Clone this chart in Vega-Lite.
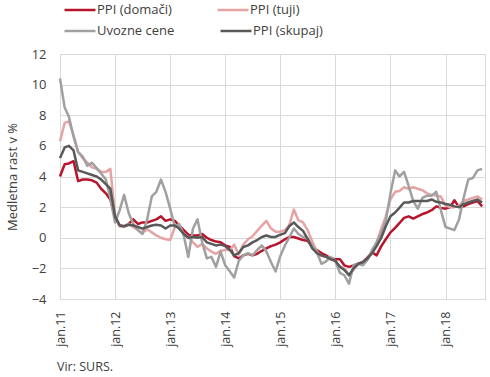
{
  "$schema": "https://vega.github.io/schema/vega-lite/v6.json",
  "width": 425,
  "height": 245,
  "autosize": {"type": "none"},
  "padding": {"left": 60, "top": 54, "right": 5, "bottom": 78},
  "background": "white",
  "config": {
    "font": "Open Sans",
    "view": {"stroke": "#D9D9D9", "strokeWidth": 1}
  },
  "title": {"text": "Vir: SURS.", "orient": "bottom", "anchor": "start", "frame": "group", "fontSize": 12.5, "fontWeight": "normal", "color": "#404040", "offset": 15, "dx": -3},
  "data": {"values": [
    {"d":"2011-01-01","PPI (domači)":4.0,"PPI (tuji)":6.3,"Uvozne cene":10.4,"PPI (skupaj)":5.2},
    {"d":"2011-02-01","PPI (domači)":4.8,"PPI (tuji)":7.5,"Uvozne cene":8.5,"PPI (skupaj)":5.9},
    {"d":"2011-03-01","PPI (domači)":4.85,"PPI (tuji)":7.6,"Uvozne cene":7.9,"PPI (skupaj)":6.0},
    {"d":"2011-04-01","PPI (domači)":5.0,"PPI (tuji)":6.7,"Uvozne cene":6.6,"PPI (skupaj)":5.7},
    {"d":"2011-05-01","PPI (domači)":3.7,"PPI (tuji)":5.6,"Uvozne cene":5.6,"PPI (skupaj)":4.4},
    {"d":"2011-06-01","PPI (domači)":3.8,"PPI (tuji)":5.2,"Uvozne cene":5.3,"PPI (skupaj)":4.3},
    {"d":"2011-07-01","PPI (domači)":3.8,"PPI (tuji)":4.9,"Uvozne cene":4.7,"PPI (skupaj)":4.2},
    {"d":"2011-08-01","PPI (domači)":3.75,"PPI (tuji)":4.6,"Uvozne cene":4.9,"PPI (skupaj)":4.1},
    {"d":"2011-09-01","PPI (domači)":3.6,"PPI (tuji)":4.5,"Uvozne cene":4.55,"PPI (skupaj)":4.0},
    {"d":"2011-10-01","PPI (domači)":3.2,"PPI (tuji)":4.3,"Uvozne cene":4.2,"PPI (skupaj)":3.8},
    {"d":"2011-11-01","PPI (domači)":2.9,"PPI (tuji)":4.3,"Uvozne cene":3.8,"PPI (skupaj)":3.5},
    {"d":"2011-12-01","PPI (domači)":2.5,"PPI (tuji)":4.5,"Uvozne cene":2.6,"PPI (skupaj)":3.2},
    {"d":"2012-01-01","PPI (domači)":1.3,"PPI (tuji)":1.5,"Uvozne cene":1.0,"PPI (skupaj)":1.4},
    {"d":"2012-02-01","PPI (domači)":0.8,"PPI (tuji)":0.75,"Uvozne cene":1.8,"PPI (skupaj)":0.8},
    {"d":"2012-03-01","PPI (domači)":0.75,"PPI (tuji)":0.7,"Uvozne cene":2.8,"PPI (skupaj)":0.75},
    {"d":"2012-04-01","PPI (domači)":0.9,"PPI (tuji)":0.9,"Uvozne cene":1.6,"PPI (skupaj)":0.85},
    {"d":"2012-05-01","PPI (domači)":1.2,"PPI (tuji)":0.7,"Uvozne cene":0.9,"PPI (skupaj)":0.8},
    {"d":"2012-06-01","PPI (domači)":0.9,"PPI (tuji)":0.5,"Uvozne cene":0.5,"PPI (skupaj)":0.7},
    {"d":"2012-07-01","PPI (domači)":1.0,"PPI (tuji)":0.3,"Uvozne cene":0.25,"PPI (skupaj)":0.6},
    {"d":"2012-08-01","PPI (domači)":1.0,"PPI (tuji)":0.55,"Uvozne cene":1.2,"PPI (skupaj)":0.7},
    {"d":"2012-09-01","PPI (domači)":1.1,"PPI (tuji)":0.35,"Uvozne cene":2.7,"PPI (skupaj)":0.8},
    {"d":"2012-10-01","PPI (domači)":1.2,"PPI (tuji)":0.15,"Uvozne cene":3.0,"PPI (skupaj)":0.85},
    {"d":"2012-11-01","PPI (domači)":1.4,"PPI (tuji)":0.0,"Uvozne cene":3.8,"PPI (skupaj)":0.8},
    {"d":"2012-12-01","PPI (domači)":1.1,"PPI (tuji)":-0.1,"Uvozne cene":3.0,"PPI (skupaj)":0.6},
    {"d":"2013-01-01","PPI (domači)":1.2,"PPI (tuji)":-0.15,"Uvozne cene":1.9,"PPI (skupaj)":0.8},
    {"d":"2013-02-01","PPI (domači)":1.1,"PPI (tuji)":0.7,"Uvozne cene":0.7,"PPI (skupaj)":0.8},
    {"d":"2013-03-01","PPI (domači)":0.8,"PPI (tuji)":0.8,"Uvozne cene":0.9,"PPI (skupaj)":0.6},
    {"d":"2013-04-01","PPI (domači)":0.5,"PPI (tuji)":0.25,"Uvozne cene":0.15,"PPI (skupaj)":0.25},
    {"d":"2013-05-01","PPI (domači)":0.2,"PPI (tuji)":0.05,"Uvozne cene":-1.25,"PPI (skupaj)":0.0},
    {"d":"2013-06-01","PPI (domači)":0.15,"PPI (tuji)":-0.3,"Uvozne cene":0.6,"PPI (skupaj)":0.05},
    {"d":"2013-07-01","PPI (domači)":0.15,"PPI (tuji)":-0.6,"Uvozne cene":1.2,"PPI (skupaj)":0.0},
    {"d":"2013-08-01","PPI (domači)":0.25,"PPI (tuji)":-0.4,"Uvozne cene":-0.3,"PPI (skupaj)":0.05},
    {"d":"2013-09-01","PPI (domači)":0.0,"PPI (tuji)":-0.7,"Uvozne cene":-1.35,"PPI (skupaj)":-0.3},
    {"d":"2013-10-01","PPI (domači)":-0.15,"PPI (tuji)":-0.9,"Uvozne cene":-1.25,"PPI (skupaj)":-0.4},
    {"d":"2013-11-01","PPI (domači)":-0.25,"PPI (tuji)":-1.05,"Uvozne cene":-1.9,"PPI (skupaj)":-0.5},
    {"d":"2013-12-01","PPI (domači)":-0.3,"PPI (tuji)":-0.85,"Uvozne cene":-0.9,"PPI (skupaj)":-0.45},
    {"d":"2014-01-01","PPI (domači)":-0.5,"PPI (tuji)":-0.8,"Uvozne cene":-1.8,"PPI (skupaj)":-0.55},
    {"d":"2014-02-01","PPI (domači)":-0.6,"PPI (tuji)":-0.8,"Uvozne cene":-2.2,"PPI (skupaj)":-0.8},
    {"d":"2014-03-01","PPI (domači)":-1.2,"PPI (tuji)":-0.45,"Uvozne cene":-2.6,"PPI (skupaj)":-1.15},
    {"d":"2014-04-01","PPI (domači)":-1.35,"PPI (tuji)":-1.1,"Uvozne cene":-1.5,"PPI (skupaj)":-1.0},
    {"d":"2014-05-01","PPI (domači)":-1.15,"PPI (tuji)":-0.45,"Uvozne cene":-1.15,"PPI (skupaj)":-0.6},
    {"d":"2014-06-01","PPI (domači)":-1.05,"PPI (tuji)":-0.1,"Uvozne cene":-1.0,"PPI (skupaj)":-0.5},
    {"d":"2014-07-01","PPI (domači)":-1.15,"PPI (tuji)":0.1,"Uvozne cene":-1.15,"PPI (skupaj)":-0.3},
    {"d":"2014-08-01","PPI (domači)":-1.05,"PPI (tuji)":0.45,"Uvozne cene":-0.8,"PPI (skupaj)":-0.15},
    {"d":"2014-09-01","PPI (domači)":-0.85,"PPI (tuji)":0.8,"Uvozne cene":-0.5,"PPI (skupaj)":0.05},
    {"d":"2014-10-01","PPI (domači)":-0.7,"PPI (tuji)":1.1,"Uvozne cene":-0.9,"PPI (skupaj)":0.15},
    {"d":"2014-11-01","PPI (domači)":-0.55,"PPI (tuji)":0.6,"Uvozne cene":-1.6,"PPI (skupaj)":0.05},
    {"d":"2014-12-01","PPI (domači)":-0.45,"PPI (tuji)":0.4,"Uvozne cene":-2.2,"PPI (skupaj)":0.05},
    {"d":"2015-01-01","PPI (domači)":-0.3,"PPI (tuji)":0.4,"Uvozne cene":-1.2,"PPI (skupaj)":0.2},
    {"d":"2015-02-01","PPI (domači)":-0.1,"PPI (tuji)":0.5,"Uvozne cene":-0.5,"PPI (skupaj)":0.3},
    {"d":"2015-03-01","PPI (domači)":0.05,"PPI (tuji)":0.8,"Uvozne cene":0.0,"PPI (skupaj)":0.75},
    {"d":"2015-04-01","PPI (domači)":0.05,"PPI (tuji)":1.85,"Uvozne cene":0.6,"PPI (skupaj)":1.0},
    {"d":"2015-05-01","PPI (domači)":-0.05,"PPI (tuji)":1.15,"Uvozne cene":0.25,"PPI (skupaj)":0.7},
    {"d":"2015-06-01","PPI (domači)":-0.15,"PPI (tuji)":1.0,"Uvozne cene":0.05,"PPI (skupaj)":0.45},
    {"d":"2015-07-01","PPI (domači)":-0.2,"PPI (tuji)":0.5,"Uvozne cene":-0.05,"PPI (skupaj)":-0.05},
    {"d":"2015-08-01","PPI (domači)":-0.6,"PPI (tuji)":-0.25,"Uvozne cene":-0.5,"PPI (skupaj)":-0.7},
    {"d":"2015-09-01","PPI (domači)":-0.8,"PPI (tuji)":-0.9,"Uvozne cene":-0.95,"PPI (skupaj)":-1.0},
    {"d":"2015-10-01","PPI (domači)":-1.0,"PPI (tuji)":-1.2,"Uvozne cene":-1.7,"PPI (skupaj)":-1.15},
    {"d":"2015-11-01","PPI (domači)":-1.15,"PPI (tuji)":-1.25,"Uvozne cene":-1.55,"PPI (skupaj)":-1.25},
    {"d":"2015-12-01","PPI (domači)":-1.35,"PPI (tuji)":-1.35,"Uvozne cene":-1.25,"PPI (skupaj)":-1.4},
    {"d":"2016-01-01","PPI (domači)":-1.4,"PPI (tuji)":-1.55,"Uvozne cene":-1.5,"PPI (skupaj)":-1.5},
    {"d":"2016-02-01","PPI (domači)":-1.4,"PPI (tuji)":-1.9,"Uvozne cene":-2.3,"PPI (skupaj)":-1.9},
    {"d":"2016-03-01","PPI (domači)":-1.8,"PPI (tuji)":-2.0,"Uvozne cene":-2.45,"PPI (skupaj)":-2.1},
    {"d":"2016-04-01","PPI (domači)":-1.9,"PPI (tuji)":-2.45,"Uvozne cene":-3.0,"PPI (skupaj)":-2.45},
    {"d":"2016-05-01","PPI (domači)":-1.8,"PPI (tuji)":-2.1,"Uvozne cene":-1.8,"PPI (skupaj)":-2.0},
    {"d":"2016-06-01","PPI (domači)":-1.7,"PPI (tuji)":-1.7,"Uvozne cene":-1.7,"PPI (skupaj)":-1.7},
    {"d":"2016-07-01","PPI (domači)":-1.6,"PPI (tuji)":-1.6,"Uvozne cene":-1.8,"PPI (skupaj)":-1.6},
    {"d":"2016-08-01","PPI (domači)":-1.3,"PPI (tuji)":-1.4,"Uvozne cene":-1.45,"PPI (skupaj)":-1.35},
    {"d":"2016-09-01","PPI (domači)":-0.95,"PPI (tuji)":-1.0,"Uvozne cene":-0.8,"PPI (skupaj)":-1.0},
    {"d":"2016-10-01","PPI (domači)":-1.15,"PPI (tuji)":-0.3,"Uvozne cene":-0.3,"PPI (skupaj)":-0.55},
    {"d":"2016-11-01","PPI (domači)":-0.55,"PPI (tuji)":0.6,"Uvozne cene":0.3,"PPI (skupaj)":0.0},
    {"d":"2016-12-01","PPI (domači)":-0.1,"PPI (tuji)":1.4,"Uvozne cene":1.1,"PPI (skupaj)":0.75},
    {"d":"2017-01-01","PPI (domači)":0.35,"PPI (tuji)":2.5,"Uvozne cene":2.9,"PPI (skupaj)":1.4},
    {"d":"2017-02-01","PPI (domači)":0.65,"PPI (tuji)":3.0,"Uvozne cene":4.4,"PPI (skupaj)":1.65},
    {"d":"2017-03-01","PPI (domači)":0.95,"PPI (tuji)":3.05,"Uvozne cene":4.0,"PPI (skupaj)":1.95},
    {"d":"2017-04-01","PPI (domači)":1.3,"PPI (tuji)":3.3,"Uvozne cene":4.3,"PPI (skupaj)":2.3},
    {"d":"2017-05-01","PPI (domači)":1.4,"PPI (tuji)":3.2,"Uvozne cene":3.4,"PPI (skupaj)":2.3},
    {"d":"2017-06-01","PPI (domači)":1.25,"PPI (tuji)":3.3,"Uvozne cene":2.4,"PPI (skupaj)":2.4},
    {"d":"2017-07-01","PPI (domači)":1.4,"PPI (tuji)":3.2,"Uvozne cene":1.9,"PPI (skupaj)":2.4},
    {"d":"2017-08-01","PPI (domači)":1.55,"PPI (tuji)":3.1,"Uvozne cene":2.6,"PPI (skupaj)":2.4},
    {"d":"2017-09-01","PPI (domači)":1.65,"PPI (tuji)":2.9,"Uvozne cene":2.75,"PPI (skupaj)":2.4},
    {"d":"2017-10-01","PPI (domači)":1.8,"PPI (tuji)":2.8,"Uvozne cene":2.75,"PPI (skupaj)":2.5},
    {"d":"2017-11-01","PPI (domači)":2.05,"PPI (tuji)":2.75,"Uvozne cene":3.0,"PPI (skupaj)":2.35},
    {"d":"2017-12-01","PPI (domači)":1.95,"PPI (tuji)":2.7,"Uvozne cene":1.8,"PPI (skupaj)":2.3},
    {"d":"2018-01-01","PPI (domači)":1.9,"PPI (tuji)":2.1,"Uvozne cene":0.7,"PPI (skupaj)":2.2},
    {"d":"2018-02-01","PPI (domači)":2.0,"PPI (tuji)":2.0,"Uvozne cene":0.6,"PPI (skupaj)":2.15},
    {"d":"2018-03-01","PPI (domači)":2.45,"PPI (tuji)":2.0,"Uvozne cene":0.5,"PPI (skupaj)":2.05},
    {"d":"2018-04-01","PPI (domači)":2.0,"PPI (tuji)":2.1,"Uvozne cene":1.2,"PPI (skupaj)":2.0},
    {"d":"2018-05-01","PPI (domači)":2.05,"PPI (tuji)":2.4,"Uvozne cene":2.6,"PPI (skupaj)":2.2},
    {"d":"2018-06-01","PPI (domači)":2.2,"PPI (tuji)":2.5,"Uvozne cene":3.8,"PPI (skupaj)":2.3},
    {"d":"2018-07-01","PPI (domači)":2.3,"PPI (tuji)":2.6,"Uvozne cene":3.9,"PPI (skupaj)":2.4},
    {"d":"2018-08-01","PPI (domači)":2.4,"PPI (tuji)":2.7,"Uvozne cene":4.4,"PPI (skupaj)":2.5},
    {"d":"2018-09-01","PPI (domači)":2.05,"PPI (tuji)":2.5,"Uvozne cene":4.5,"PPI (skupaj)":2.3}
  ]},
  "transform": [
    {"fold": ["PPI (domači)", "PPI (tuji)", "Uvozne cene", "PPI (skupaj)"], "as": ["series", "value"]}
  ],
  "encoding": {
    "x": {
      "field": "d", "type": "temporal",
      "scale": {"type": "utc", "domain": [{"year": 2011, "month": 1, "date": 1, "utc": true}, {"year": 2018, "month": 9, "date": 20, "utc": true}]},
      "axis": {
        "title": null, "tickCount": {"interval": "year", "step": 1},
        "labelExpr": "'jan.' + utcFormat(datum.value, '%y')",
        "labelAngle": -90, "labelPadding": 12, "labelFontSize": 12.5, "labelColor": "#404040",
        "labelFlush": false, "labelOverlap": false,
        "grid": true, "gridColor": "#D9D9D9", "ticks": false, "domain": false
      }
    },
    "y": {
      "field": "value", "type": "quantitative",
      "scale": {"domain": [-4, 12], "nice": false},
      "axis": {
        "title": "Medletna rast v %", "titleFontSize": 13, "titleFontWeight": "normal", "titleColor": "#404040", "titlePadding": 12,
        "values": [-4, -2, 0, 2, 4, 6, 8, 10, 12],
        "labelFontSize": 13, "labelColor": "#404040", "labelPadding": 14,
        "grid": true, "gridColor": "#D9D9D9", "ticks": false, "domain": false
      }
    }
  },
  "layer": [
    {
      "transform": [{"filter": {"field": "series", "oneOf": ["PPI (domači)", "PPI (tuji)"]}}],
      "mark": {"type": "line", "strokeWidth": 2.5, "strokeJoin": "round"},
      "encoding": {
        "color": {
          "field": "series", "type": "nominal",
          "scale": {"domain": ["PPI (domači)", "PPI (tuji)"], "range": ["#B8142C", "#E6A3A3"]},
          "legend": {
            "title": null, "orient": "none", "legendX": 3, "legendY": -61, "direction": "horizontal",
            "symbolType": "stroke", "symbolSize": 961, "symbolStrokeWidth": 2.5, "labelOffset": 0,
            "labelFontSize": 13, "labelColor": "#404040", "columnPadding": 40
          }
        }
      }
    },
    {
      "transform": [{"filter": {"field": "series", "oneOf": ["Uvozne cene", "PPI (skupaj)"]}}],
      "mark": {"type": "line", "strokeWidth": 2.5, "strokeJoin": "round"},
      "encoding": {
        "stroke": {
          "field": "series", "type": "nominal",
          "scale": {"domain": ["Uvozne cene", "PPI (skupaj)"], "range": ["#A0A0A0", "#595959"]},
          "legend": {
            "title": null, "orient": "none", "legendX": 3, "legendY": -40, "direction": "horizontal",
            "symbolType": "stroke", "symbolSize": 961, "symbolStrokeWidth": 2.5, "labelOffset": 0,
            "labelFontSize": 13, "labelColor": "#404040", "columnPadding": 40
          }
        }
      }
    }
  ]
}
